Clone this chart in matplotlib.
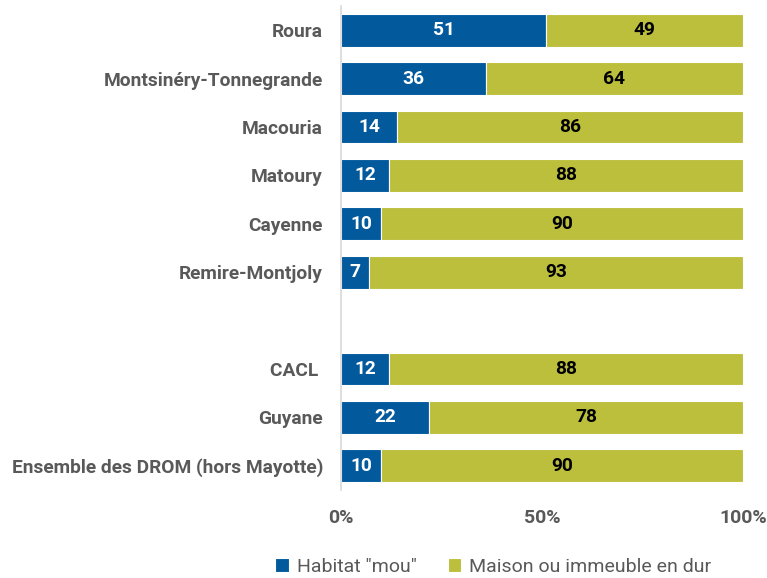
import numpy as np
import matplotlib.pyplot as plt

plt.rcParams['font.family'] = ['Roboto', 'DejaVu Sans']

categories = ['Roura', 'Montsinéry-Tonnegrande', 'Macouria', 'Matoury', 'Cayenne',
              'Remire-Montjoly', '', 'CACL ', 'Guyane', 'Ensemble des DROM (hors Mayotte)']
mou = [51, 36, 14, 12, 10, 7, None, 12, 22, 10]
dur = [49, 64, 86, 88, 90, 93, None, 88, 78, 90]

blue = '#02599c'
green = '#bcbf3b'
grey = '#595959'

fig = plt.figure(figsize=(7.67, 5.78), dpi=100)
ax = fig.add_axes([341 / 767, 1 - 490 / 578, (743 - 341) / 767, 484 / 578])

y = np.arange(len(categories))
idx = [i for i in y if mou[i] is not None]
m = np.array([mou[i] for i in idx])
d = np.array([dur[i] for i in idx])

ax.barh(idx, m, height=0.68, color=blue, edgecolor='white', linewidth=0.8, label='Habitat "mou"')
ax.barh(idx, d, left=m, height=0.68, color=green, edgecolor='white', linewidth=0.8,
        label='Maison ou immeuble en dur')

for i, a, b in zip(idx, m, d):
    ax.text(a / 2, i, str(a), ha='center', va='center', color='white',
            fontsize=13.8, fontweight='bold')
    ax.text(a + b / 2, i, str(b), ha='center', va='center', color='black',
            fontsize=13.8, fontweight='bold')

ax.set_xlim(0, 100)
ax.set_ylim(len(categories) - 0.5, -0.5)
ax.set_yticks(y)
ax.set_yticklabels(categories, fontsize=13.8, fontweight='bold', color=grey)
ax.set_xticks([0, 50, 100])
ax.set_xticklabels(['0%', '50%', '100%'], fontsize=14, fontweight='bold', color=grey)
ax.tick_params(axis='both', length=0)
ax.tick_params(axis='y', pad=13)
ax.tick_params(axis='x', pad=14)

for s in ['top', 'right', 'bottom']:
    ax.spines[s].set_visible(False)
ax.spines['left'].set_color('#d9d9d9')
ax.spines['left'].set_linewidth(1.2)

leg = fig.legend(loc='lower center', bbox_to_anchor=(0.643, -0.027), ncol=2, frameon=False,
                 fontsize=14, handlelength=0.7, handleheight=0.7, handletextpad=0.4,
                 columnspacing=1.6)
for t in leg.get_texts():
    t.set_color(grey)

fig.savefig('out.png', dpi=100)
